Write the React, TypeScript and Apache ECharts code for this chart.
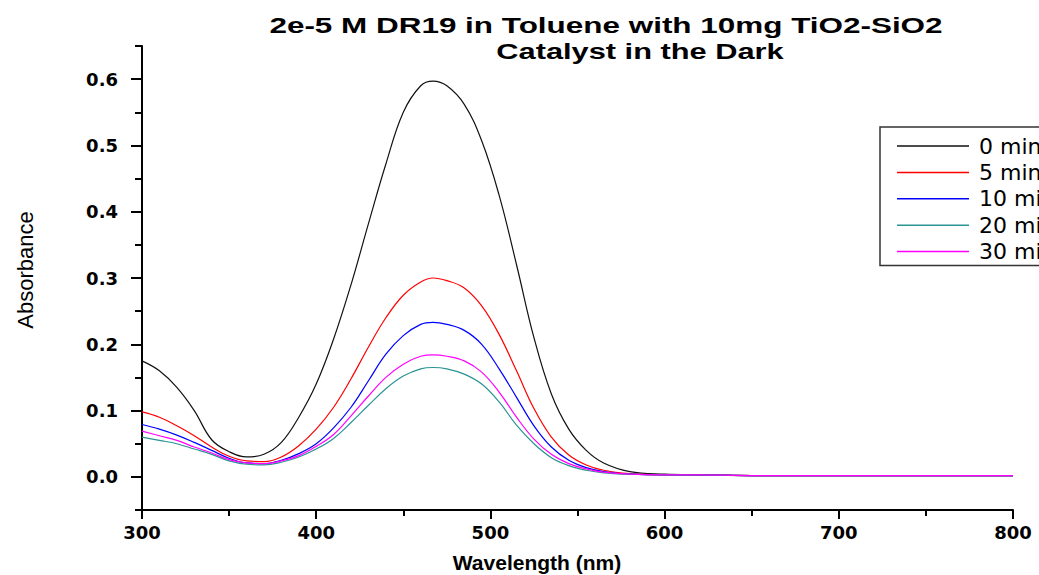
import React, { useEffect, useRef } from "react";
import * as echarts from "echarts";

const titleLine1 = "2e-5 M DR19 in Toluene with 10mg TiO2-SiO2";
const titleLine2 = "Catalyst in the Dark";
const xName = "Wavelength (nm)";
const yName = "Absorbance";

const seriesNames = ["0 min", "5 min", "10 min", "20 min", "30 min"];
const seriesColors = ["#111111", "#ff0000", "#0000ff", "#2a9393", "#ff00ff"];

const wavelengths = [300, 310, 320, 330, 340, 350, 360, 370, 380, 390, 400, 410, 420, 430, 440, 450, 460, 467, 475, 485, 495, 505, 515, 525, 535, 545, 555, 565, 580, 600, 620, 650, 700, 750, 800];

const min0 = [0.175, 0.16, 0.135, 0.1, 0.056, 0.038, 0.03, 0.034, 0.052, 0.09, 0.14, 0.208, 0.29, 0.382, 0.472, 0.55, 0.59, 0.597, 0.59, 0.562, 0.507, 0.425, 0.32, 0.21, 0.125, 0.072, 0.04, 0.021, 0.008, 0.004, 0.003, 0.002, 0.002, 0.002, 0.002];
const min5 = [0.098, 0.09, 0.077, 0.062, 0.045, 0.031, 0.024, 0.023, 0.03, 0.047, 0.072, 0.105, 0.148, 0.196, 0.24, 0.274, 0.294, 0.3, 0.296, 0.285, 0.258, 0.215, 0.16, 0.103, 0.06, 0.033, 0.018, 0.01, 0.005, 0.003, 0.003, 0.002, 0.002, 0.002, 0.002];
const min10 = [0.079, 0.072, 0.063, 0.052, 0.04, 0.028, 0.021, 0.02, 0.025, 0.035, 0.05, 0.074, 0.105, 0.145, 0.185, 0.213, 0.23, 0.233, 0.23, 0.221, 0.2, 0.163, 0.12, 0.077, 0.045, 0.025, 0.014, 0.008, 0.004, 0.003, 0.003, 0.002, 0.002, 0.002, 0.002];
const min20 = [0.06, 0.055, 0.05, 0.042, 0.034, 0.024, 0.019, 0.018, 0.022, 0.03, 0.042, 0.058, 0.082, 0.108, 0.133, 0.152, 0.163, 0.165, 0.163, 0.155, 0.14, 0.113, 0.078, 0.05, 0.029, 0.017, 0.01, 0.006, 0.004, 0.003, 0.003, 0.002, 0.002, 0.002, 0.002];
const min30 = [0.069, 0.062, 0.055, 0.045, 0.036, 0.026, 0.021, 0.02, 0.024, 0.032, 0.046, 0.064, 0.092, 0.122, 0.15, 0.17, 0.182, 0.184, 0.182, 0.175, 0.158, 0.128, 0.09, 0.057, 0.034, 0.02, 0.012, 0.007, 0.004, 0.003, 0.003, 0.002, 0.002, 0.002, 0.002];

const allValues = [min0, min5, min10, min20, min30];

const majorYTicks = [0, 0.1, 0.2, 0.3, 0.4, 0.5, 0.6];

export default function App() {
  const ref = useRef<HTMLDivElement>(null);

  useEffect(() => {
    if (!ref.current) return;
    const chart = echarts.init(ref.current, null, { renderer: "svg" });
    const grid = { left: 142, right: 26, top: 46, bottom: 65, containLabel: false, outerBoundsMode: "none" };
    const axisColor = "#000";
    const labelStyle = {
      fontFamily: "DejaVu Sans",
      fontWeight: "bold" as const,
      fontSize: 18,
      color: "#000",
    };
    const titleFont = 'bold 22px "Liberation Sans", Arial, sans-serif';
    const option: any = {
      animation: false,
      backgroundColor: "#fff",
      grid: [grid, { ...grid }],
      graphic: [
        {
          type: "text",
          x: 606,
          y: 25,
          scaleX: 1.43,
          style: {
            text: titleLine1,
            font: titleFont,
            fill: "#000",
            align: "center",
            verticalAlign: "middle",
            textAlign: "center",
            textVerticalAlign: "middle",
          },
        },
        {
          type: "text",
          x: 640,
          y: 52,
          scaleX: 1.4,
          style: {
            text: titleLine2,
            font: titleFont,
            fill: "#000",
            align: "center",
            verticalAlign: "middle",
            textAlign: "center",
            textVerticalAlign: "middle",
          },
        },
      ],
      legend: {
        orient: "vertical",
        left: 880,
        top: 127,
        padding: [8, 60, 3, 17],
        icon: "rect",
        itemWidth: 72,
        itemHeight: 1.5,
        itemGap: 4.4,
        borderColor: "#333",
        borderWidth: 1.5,
        backgroundColor: "#fff",
        textStyle: {
          fontFamily: "DejaVu Sans",
          fontSize: 22,
          lineHeight: 22,
          color: "#000",
          padding: [0, 0, 0, 5],
        },
        data: seriesNames,
      },
      xAxis: [
        {
          type: "value",
          gridIndex: 0,
          min: 300,
          max: 800,
          interval: 100,
          position: "bottom",
          axisLine: { show: true, onZero: false, lineStyle: { color: axisColor, width: 2 } },
          axisTick: { show: true, length: 9, lineStyle: { color: axisColor, width: 2 } },
          axisLabel: { ...labelStyle, margin: 13 },
          splitLine: { show: false },
          name: xName,
          nameLocation: "middle",
          nameGap: 42,
          nameTextStyle: {
            fontFamily: "Liberation Sans",
            fontWeight: "bold",
            fontSize: 21,
            color: "#000",
            padding: [0, 81, 0, 0],
          },
        },
        {
          type: "value",
          gridIndex: 1,
          min: 300,
          max: 800,
          interval: 50,
          position: "bottom",
          axisLine: { show: false, onZero: false },
          axisTick: { show: true, length: 6, lineStyle: { color: axisColor, width: 2 } },
          axisLabel: { show: false },
          splitLine: { show: false },
        },
      ],
      yAxis: [
        {
          type: "value",
          gridIndex: 0,
          min: -0.05,
          max: 0.65,
          position: "left",
          axisLine: { show: true, onZero: false, lineStyle: { color: axisColor, width: 2 } },
          axisTick: {
            show: true,
            customValues: majorYTicks,
            length: 11,
            lineStyle: { color: axisColor, width: 2 },
          },
          axisLabel: {
            ...labelStyle,
            customValues: majorYTicks,
            margin: 24,
            formatter: (v: number) => v.toFixed(1),
          },
          splitLine: { show: false },
          name: yName,
          nameLocation: "middle",
          nameGap: 106,
          nameRotate: 90,
          nameTextStyle: {
            fontFamily: "Liberation Sans",
            fontSize: 22,
            color: "#000",
            padding: [0, 0, 0, 16],
          },
        },
        {
          type: "value",
          gridIndex: 1,
          min: -0.05,
          max: 0.65,
          interval: 0.05,
          position: "left",
          axisLine: { show: false, onZero: false },
          axisTick: { show: true, length: 7, lineStyle: { color: axisColor, width: 2 } },
          axisLabel: { show: false },
          splitLine: { show: false },
        },
      ],
      series: seriesNames.map((name, i) => ({
        name,
        type: "line",
        xAxisIndex: 0,
        yAxisIndex: 0,
        data: wavelengths.map((w, j) => [w, allValues[i][j]]),
        smooth: 0.4,
        symbol: "none",
        showSymbol: false,
        color: seriesColors[i],
        lineStyle: { color: seriesColors[i], width: 1.2 },
      })),
    };
    chart.setOption(option);
    return () => chart.dispose();
  }, []);

  return (
    <div
      ref={ref}
      style={{ position: "fixed", left: 0, top: 0, width: 1039, height: 575, overflow: "hidden", background: "#fff" }}
    />
  );
}
